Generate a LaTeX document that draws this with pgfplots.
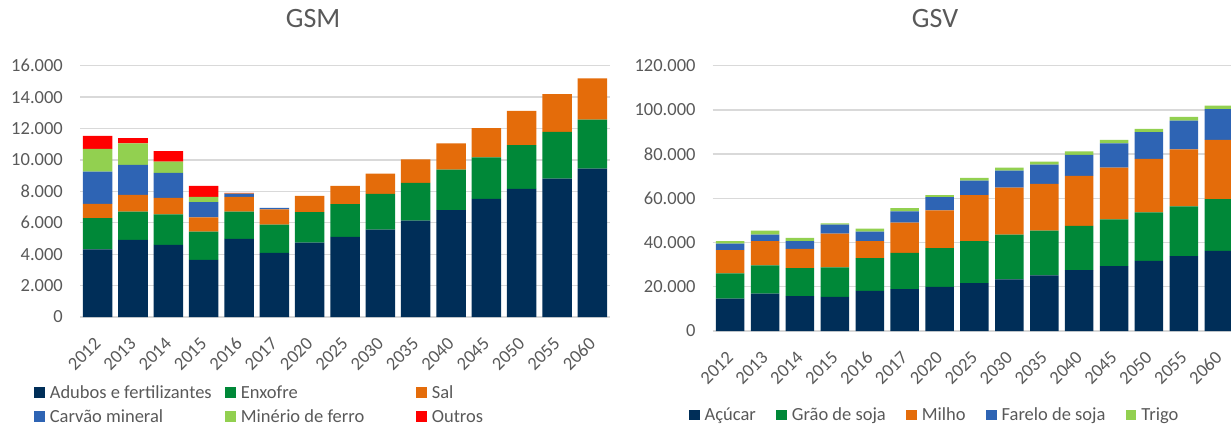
\documentclass[border=0pt]{standalone}
\usepackage{pgfplots}
\pgfplotsset{compat=1.18}
\usepackage{pgfplotstable}
\usepackage{fontspec}
\setmainfont{Carlito}
\definecolor{cA}{RGB}{0,46,88}
\definecolor{cE}{RGB}{0,136,56}
\definecolor{cS}{RGB}{228,108,10}
\definecolor{cC}{RGB}{46,100,180}
\definecolor{cM}{RGB}{146,208,80}
\definecolor{cO}{RGB}{255,0,0}
\definecolor{txt}{RGB}{89,89,89}
\definecolor{grd}{RGB}{217,217,217}

\pgfplotstableread{
x A E S C M O
0 4300 2000 900 2060 1450 830
1 4910 1800 1070 1910 1360 340
2 4590 1950 1040 1600 720 660
3 3630 1810 910 960 340 700
4 4970 1740 940 190 20 50
5 4080 1800 980 90 0 0
6 4740 1930 1040 0 0 0
7 5100 2080 1170 0 0 0
8 5570 2270 1290 0 0 0
9 6140 2400 1490 0 0 0
10 6800 2590 1660 0 0 0
11 7520 2640 1870 0 0 0
12 8160 2780 2190 0 0 0
13 8810 2980 2400 0 0 0
14 9450 3110 2630 0 0 0
}\gsm

\pgfplotstableread{
x Acu Grao Milho Farelo Trigo
0 14600 11500 10500 2900 1200
1 16900 12800 11000 2900 1800
2 15800 12600 8700 3600 1400
3 15400 13400 15200 4100 600
4 18200 14800 7700 4200 1400
5 18900 16400 13700 5100 1500
6 20000 17500 17100 6000 900
7 21600 19100 20800 6500 1300
8 23400 20200 21200 7700 1400
9 25200 20200 21200 8600 1400
10 27500 20100 22600 9500 1600
11 29300 21200 23400 11000 1500
12 31700 22000 24200 12100 1400
13 33900 22500 25800 12900 1700
14 36200 23500 26700 14000 1500
}\gsv

\pgfplotsset{
  mybase/.style={
    scale only axis,
    ybar stacked,
    xmin=-0.5, xmax=14.5,
    ymin=0,
    xtick={0,...,14},
    xticklabels={2012,2013,2014,2015,2016,2017,2020,2025,2030,2035,2040,2045,2050,2055,2060},
    axis line style={draw=none},
    major tick length=0pt,
    ymajorgrids,
    grid style={grd, line width=1.3pt},
    scaled y ticks=false,
    tick label style={font=\fontsize{18.5}{20}\selectfont, text=txt},
    xticklabel style={rotate=45, anchor=east, inner sep=0pt},
    yticklabel style={anchor=east, inner sep=0pt},
    xticklabel shift=23.5pt,
    yticklabel shift=17pt,
    /pgf/number format/.cd, fixed, 1000 sep={.}, assume math mode=true, /pgfplots/.cd,
    title style={font=\fontsize{28}{30}\selectfont, text=txt, anchor=base, inner sep=0pt, yshift=31.7pt},
    legend style={draw=none, fill=none, inner sep=0pt, outer sep=0pt,
      font=\fontsize{18.5}{20}\selectfont, text=txt,
      nodes={inner sep=0pt, text height=13.9pt, text depth=4.6pt, anchor=base west},
      row sep=5.5pt, column sep=0pt,
      anchor=north west,
      /tikz/every odd column/.style={column sep=5pt}},
    legend cell align=left,
    legend image code/.code={\fill[##1] (0pt,0.5pt) rectangle (10.5pt,11pt);},
  }
}

\begin{document}
\begin{tikzpicture}
\begin{axis}[mybase,
  at={(80pt,109pt)}, anchor=south west,
  width=530pt, height=251.3pt,
  ymax=16000, ytick distance=2000,
  bar width=0.835,
  title={GSM}, title style={at={(0.44,1)}},
  legend columns=3,
  legend style={at={(-0.0862,-0.2682)},
    /tikz/every even column/.style={column sep=0pt}},
]
\addplot[fill=cA, draw=none] table[x=x,y=A]{\gsm};
\addlegendentry{\makebox[175.5pt][l]{Adubos e fertilizantes}}
\addplot[fill=cE, draw=none] table[x=x,y=E]{\gsm};
\addlegendentry{\makebox[175.5pt][l]{Enxofre}}
\addplot[fill=cS, draw=none] table[x=x,y=S]{\gsm};
\addlegendentry{Sal}
\addplot[fill=cC, draw=none] table[x=x,y=C]{\gsm};
\addlegendentry{\makebox[175.5pt][l]{Carvão mineral}}
\addplot[fill=cM, draw=none] table[x=x,y=M]{\gsm};
\addlegendentry{\makebox[175.5pt][l]{Minério de ferro}}
\addplot[fill=cO, draw=none] table[x=x,y=O]{\gsm};
\addlegendentry{Outros}
\end{axis}

\begin{axis}[mybase,
  at={(712.7pt,95pt)}, anchor=south west,
  width=523.5pt, height=265.3pt,
  ymax=120000, ytick distance=20000,
  bar width=0.817,
  title={GSV}, title style={at={(0.4247,1)}},
  legend columns=5,
  legend style={at={(-0.0449,-0.2861)},
    /tikz/every even column/.style={column sep=20.5pt}},
]
\addplot[fill=cA, draw=none] table[x=x,y=Acu]{\gsv};
\addlegendentry{Açúcar}
\addplot[fill=cE, draw=none] table[x=x,y=Grao]{\gsv};
\addlegendentry{Grão de soja}
\addplot[fill=cS, draw=none] table[x=x,y=Milho]{\gsv};
\addlegendentry{Milho}
\addplot[fill=cC, draw=none] table[x=x,y=Farelo]{\gsv};
\addlegendentry{Farelo de soja}
\addplot[fill=cM, draw=none] table[x=x,y=Trigo]{\gsv};
\addlegendentry{Trigo}
\end{axis}
\pgfresetboundingbox
\path[use as bounding box] (0,0) rectangle (1231pt,426pt);
\end{tikzpicture}
\end{document}
